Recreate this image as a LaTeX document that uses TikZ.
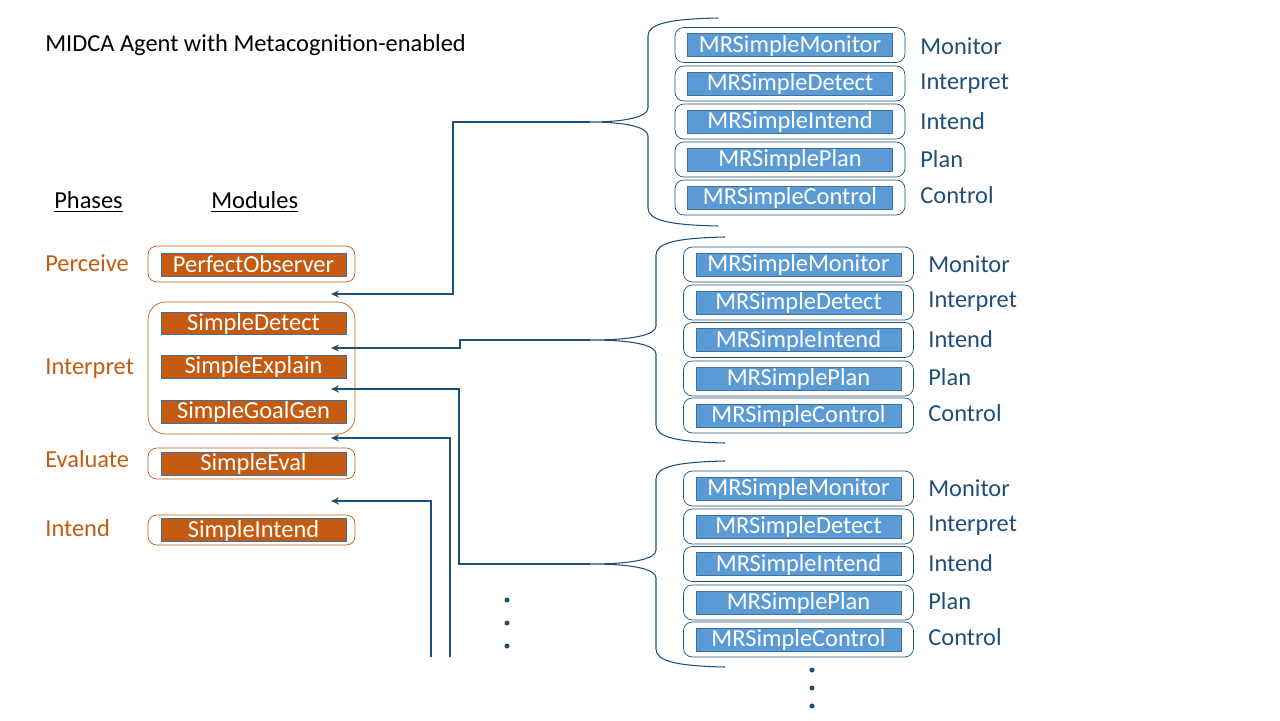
\documentclass[tikz,border=0pt]{standalone}
\usepackage{fontspec}
\setmainfont{Carlito}
\usetikzlibrary{arrows.meta, positioning}

\definecolor{rust}{HTML}{C55A11}
\definecolor{sky}{HTML}{5B9BD5}
\definecolor{edge}{HTML}{41719C}
\definecolor{navy}{HTML}{1F4E79}

\begin{document}
\begin{tikzpicture}[
  x=0.02cm, y=-0.02cm,
  >={Stealth[length=4.5pt, width=4pt]},
  font=\fontsize{13.9}{16}\selectfont,
  title/.style={anchor=west, inner sep=0pt, text height=0.86em, text depth=0pt},
  phase/.style={title, text=rust},
  stage/.style={title, text=navy},
  modframe/.style={
    draw=rust,
    rounded corners=5pt,
    minimum width=4.14cm
  },
  module/.style={
    fill=rust,
    draw=edge,
    text=white,
    minimum width=3.7cm,
    minimum height=0.47cm,
    inner sep=0pt,
    text height=0.84em,
    text depth=0pt
  },
  slot/.style={
    draw=navy,
    rounded corners=5pt,
    minimum width=4.6cm,
    minimum height=0.7cm
  },
  mrmod/.style={
    fill=sky,
    draw=edge,
    text=white,
    minimum width=4.1cm,
    minimum height=0.46cm,
    inner sep=0pt,
    text height=0.84em,
    text depth=0pt
  },
  brace/.style={draw=navy, line width=0.6pt},
  link/.style={->, draw=navy, line width=1.2pt},
  dot/.style={circle, fill=navy, inner sep=0pt, minimum size=0.1cm}
]
\useasboundingbox (0,0) rectangle (1280,720);

% Titre et en-tetes
\node[title] (head) at (45,44) {MIDCA Agent with Metacognition-enabled};
\node[title] (hph) at (54,201) {\underline{Phases}};
\node[title] (hmod) at (211,201) {\underline{Modules}};

% Phases du niveau objet
\node[phase] (pPer) at (45,264) {Perceive};
\node[phase] (pInt) at (45,367) {Interpret};
\node[phase] (pEva) at (45,460) {Evaluate};
\node[phase] (pItd) at (45,529) {Intend};

% Modules du niveau objet
\node[modframe, minimum height=0.72cm] (fPer) at (251.5,264) {};
\node[module] (obs) at (253.5,265) {PerfectObserver};

\node[modframe, minimum height=2.64cm, rounded corners=10pt] (fInt) at (251.5,368) {};
\node[module, minimum height=0.44cm] (det) at (253.5,323.5) {SimpleDetect};
\node[module, minimum height=0.46cm] (expl) at (253.5,366.5) {SimpleExplain};
\node[module, minimum height=0.46cm] (gg) at (253.5,411.5) {SimpleGoalGen};

\node[modframe, minimum height=0.62cm] (fEva) at (251.5,463.5) {};
\node[module, minimum height=0.46cm] (eval) at (253.5,463.5) {SimpleEval};

\node[modframe, minimum height=0.6cm] (fItd) at (251.5,530) {};
\node[module] (itd) at (253.5,530) {SimpleIntend};

% Pile meta 1
\node[slot] (s1a) at (790,45) {};
\node[mrmod] (mon1) at (s1a) {MRSimpleMonitor};
\node[stage] (l1a) at (920,47) {Monitor};
\node[slot] (s1b) at (790,83.5) {};
\node[mrmod] (det1) at (s1b) {MRSimpleDetect};
\node[stage] (l1b) at (920,82) {Interpret};
\node[slot] (s1c) at (790,121.5) {};
\node[mrmod] (itd1) at (s1c) {MRSimpleIntend};
\node[stage] (l1c) at (920,122) {Intend};
\node[slot] (s1d) at (790,159.5) {};
\node[mrmod] (pln1) at (s1d) {MRSimplePlan};
\node[stage] (l1d) at (920,160) {Plan};
\node[slot] (s1e) at (790,197.5) {};
\node[mrmod] (ctl1) at (s1e) {MRSimpleControl};
\node[stage] (l1e) at (920,196) {Control};

% Pile meta 2
\node[slot] (s2a) at (798.5,264.5) {};
\node[mrmod] (mon2) at (s2a) {MRSimpleMonitor};
\node[stage] (l2a) at (928,265) {Monitor};
\node[slot] (s2b) at (798.5,302.5) {};
\node[mrmod] (det2) at (s2b) {MRSimpleDetect};
\node[stage] (l2b) at (928,300) {Interpret};
\node[slot] (s2c) at (798.5,340) {};
\node[mrmod] (itd2) at (s2c) {MRSimpleIntend};
\node[stage] (l2c) at (928,340) {Intend};
\node[slot] (s2d) at (798.5,378.5) {};
\node[mrmod] (pln2) at (s2d) {MRSimplePlan};
\node[stage] (l2d) at (928,378) {Plan};
\node[slot] (s2e) at (798.5,415.5) {};
\node[mrmod] (ctl2) at (s2e) {MRSimpleControl};
\node[stage] (l2e) at (928,414) {Control};

% Pile meta 3
\node[slot] (s3a) at (798.5,488.5) {};
\node[mrmod] (mon3) at (s3a) {MRSimpleMonitor};
\node[stage] (l3a) at (928,489) {Monitor};
\node[slot] (s3b) at (798.5,526.5) {};
\node[mrmod] (det3) at (s3b) {MRSimpleDetect};
\node[stage] (l3b) at (928,524) {Interpret};
\node[slot] (s3c) at (798.5,564) {};
\node[mrmod] (itd3) at (s3c) {MRSimpleIntend};
\node[stage] (l3c) at (928,564) {Intend};
\node[slot] (s3d) at (798.5,602.5) {};
\node[mrmod] (pln3) at (s3d) {MRSimplePlan};
\node[stage] (l3d) at (928,602) {Plan};
\node[slot] (s3e) at (798.5,639.5) {};
\node[mrmod] (ctl3) at (s3e) {MRSimpleControl};
\node[stage] (l3e) at (928,638) {Control};

% Accolades
\coordinate (tip1) at (590,122);
\coordinate (tip2) at (590,340);
\coordinate (tip3) at (590,564);
\draw[brace] (718,18) .. controls (668,19) and (648,24) .. (648,36) -- (648,108)
  .. controls (648,117) and (625,122) .. (tip1)
  .. controls (625,122) and (648,127) .. (648,136) -- (648,208)
  .. controls (648,220) and (668,225) .. (718,226);
\draw[brace] (725,237) .. controls (676,238) and (656,243) .. (656,255) -- (656,326)
  .. controls (656,335) and (633,340) .. (tip2)
  .. controls (633,340) and (656,345) .. (656,354) -- (656,425)
  .. controls (656,437) and (676,442) .. (725,443);
\draw[brace] (725,461) .. controls (676,462) and (656,467) .. (656,479) -- (656,550)
  .. controls (656,559) and (633,564) .. (tip3)
  .. controls (633,564) and (656,569) .. (656,578) -- (656,649)
  .. controls (656,661) and (676,666) .. (725,667);

% Points d'arrivee des fleches
\coordinate (aObs) at (331,294);
\coordinate (aDet) at (331,348);
\coordinate (aExp) at (331,389);
\coordinate (aGg) at (331,438);
\coordinate (aEva) at (331,501);
\coordinate (in4) at (450,657);
\coordinate (in5) at (431,657);

% Connexions
\draw[link] (tip1) -- ++(-137,0) |- (aObs);
\draw[link] (tip2) -- ++(-130,0) |- (aDet);
\draw[link] (tip3) -- ++(-131,0) |- (aExp);
\draw[link] (in4) |- (aGg);
\draw[link] (in5) |- (aEva);

% Points de suspension
\node[dot] (d1) at (507,600) {};
\node[dot] (d2) at (507,623) {};
\node[dot] (d3) at (507,646) {};
\node[dot] (d4) at (812,670) {};
\node[dot] (d5) at (812,688) {};
\node[dot] (d6) at (812,706) {};

\end{tikzpicture}
\end{document}
